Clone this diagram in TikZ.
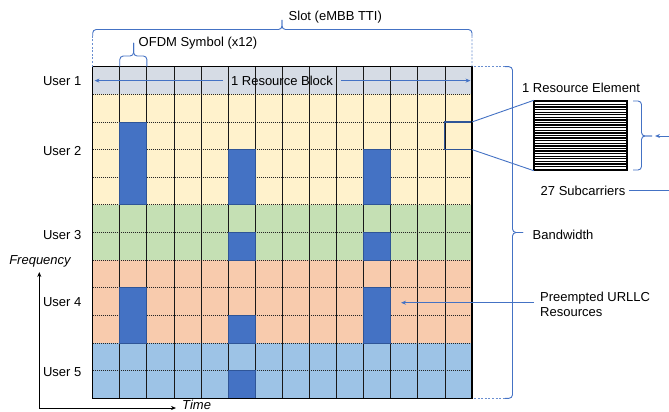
\documentclass[tikz,border=0pt]{standalone}
\usepackage{fontspec}
\setmainfont{Liberation Sans}
\usetikzlibrary{arrows.meta}
\definecolor{uone}{HTML}{D6DCE5}
\definecolor{utwo}{HTML}{FFF2CC}
\definecolor{uthree}{HTML}{C5E0B4}
\definecolor{ufour}{HTML}{F8CBAD}
\definecolor{ufive}{HTML}{9DC3E6}
\definecolor{urblue}{HTML}{4472C4}
\definecolor{urdark}{HTML}{2F5597}
\definecolor{annblue}{HTML}{4472C4}
\tikzset{
  ann/.style={draw=annblue, line width=0.9pt},
  anndot/.style={draw=annblue!80, line width=0.9pt, dash pattern=on 2pt off 1.6pt},
  annbrace/.style={draw=annblue, line width=0.9pt, rounded corners=3.5pt},
  tipstyle/.style={-{Stealth[length=5pt,width=4pt]}},
  dotline/.style={draw=black!85, line width=0.8pt, dash pattern=on 1pt off 1pt},
  vline/.style={draw=black!90, line width=0.8pt},
  urllc/.style={fill=urblue, draw=urdark, line width=0.8pt},
  hl/.style={draw=urdark, line width=1.1pt},
  lbl/.style={inner sep=0pt},
  axis/.style={draw=black, line width=0.7pt}
}
\begin{document}
\begin{tikzpicture}[x=1pt,y=-1pt, font=\fontsize{13}{15.3}\selectfont]
\useasboundingbox (0,0) rectangle (669,412);

% ---------- grid ----------
\begin{scope}[shift={(92.7pt,-66.7pt)}, x=27.093pt, y=-27.633pt]
  \fill[uone]   (0,0)  rectangle (14,1);
  \fill[utwo]   (0,1)  rectangle (14,5);
  \fill[uthree] (0,5)  rectangle (14,7);
  \fill[ufour]  (0,7)  rectangle (14,10);
  \fill[ufive]  (0,10) rectangle (14,12);
  \foreach \r in {1,...,11} \draw[dotline] (0,\r) -- (14,\r);
  \foreach \c in {1,...,13} \draw[vline] (\c,0) -- (\c,12);
  \foreach \c/\a/\b in {1/2/5, 5/3/5, 10/3/5, 5/6/7, 10/6/7, 1/8/10, 10/8/10, 5/9/10, 5/11/12}
    \draw[urllc] (\c,\a) rectangle (\c+1,\b);
  \draw[hl] (13,2) rectangle (14,3);
  \draw[line width=1.5pt] (0,0) rectangle (14,12);
  \coordinate (gNW) at (0,0);
  \coordinate (gNE) at (14,0);
  \coordinate (gSE) at (14,12);
  \coordinate (gSW) at (0,12);
  \coordinate (reA) at (14,2);
  \coordinate (reB) at (14,3);
  \coordinate (ofL) at (1,0);
  \coordinate (ofR) at (2,0);
\end{scope}

% ---------- user labels ----------
\node[lbl, anchor=east] (u1) at (81.5,80.7)  {User 1};
\node[lbl, anchor=east] (u2) at (81.5,150.7) {User 2};
\node[lbl, anchor=east] (u3) at (81.5,235.5) {User 3};
\node[lbl, anchor=east] (u4) at (81.5,302.3) {User 4};
\node[lbl, anchor=east] (u5) at (81.5,372.5) {User 5};

% ---------- resource block arrow ----------
\node[inner ysep=0pt, inner xsep=8pt] (rb) at (282,80.6) {1 Resource Block};
\coordinate (rbL) at (94.5,80.6);
\coordinate (rbR) at (470.5,80.6);
\draw[ann, tipstyle] (rb.west) -- (rbL);
\draw[ann, tipstyle] (rb.east) -- (rbR);

% ---------- slot brace ----------
\coordinate (slL) at (92.7,36);
\coordinate (slR) at (472,36);
\coordinate (slTip) at (282,20);
\draw[anndot] (gNW) -- (slL);
\draw[anndot] (gNE) -- (slR);
\draw[annbrace] (slL) |- (282,29.5) -- (slTip);
\draw[annbrace] (slR) |- (282,29.5) -- (slTip);
\node[lbl, anchor=west] (slot) at (288.5,17) {Slot (eMBB TTI)};

% ---------- OFDM brace ----------
\coordinate (ofTip) at (133.6,43);
\draw[annbrace] (ofL) |- (133.6,56) -- (ofTip);
\draw[annbrace] (ofR) |- (133.6,56) -- (ofTip);
\node[lbl, anchor=west] (ofdm) at (138.5,43) {OFDM Symbol (x12)};

% ---------- bandwidth brace ----------
\coordinate (bwT) at (505,66.7);
\coordinate (bwB) at (505,398.3);
\coordinate (bwTip) at (523,232.5);
\draw[anndot] (474,66.7) -- (bwT);
\draw[anndot] (474,398.3) -- (bwB);
\draw[annbrace] (bwT) -| (512.5,232.5) -- (bwTip);
\draw[annbrace] (bwB) -| (512.5,232.5) -- (bwTip);
\node[lbl, anchor=west] (bw) at (532.5,235) {Bandwidth};

% ---------- resource element ----------
\node[lbl, draw=none, minimum width=93pt, minimum height=70pt] (re) at (580.5,135.5) {};
\fill[white] (re.north west) rectangle (re.south east);
\foreach \i in {0,...,26}
  \draw[black, line width=1.3pt] (534,{100.5+(\i+0.5)*70/27}) -- (627,{100.5+(\i+0.5)*70/27});
\draw[black, line width=1.5pt] (re.north west) rectangle (re.south east);
\node[lbl] (relbl) at (581,88.3) {1 Resource Element};
\draw[ann] (reA) -- (re.north west);
\draw[ann] (reB) -- (re.south west);

% RE brace
\coordinate (rbT) at (633,101);
\coordinate (rbB) at (633,170);
\coordinate (rbTip) at (652,136);
\draw[annbrace] (rbT) -| (641.5,136) -- (rbTip);
\draw[annbrace] (rbB) -| (641.5,136) -- (rbTip);
\coordinate (scIn) at (669,136);
\coordinate (scHead) at (655,136);
\draw[ann, tipstyle] (scIn) -- (scHead);

\node[lbl] (sub) at (583,190.5) {27 Subcarriers};
\coordinate (subR) at (669,190.5);
\draw[ann] ([xshift=4pt]sub.east) -- (subR);

% ---------- preempted ----------
\node[lbl, anchor=west, align=left] (pre) at (540,304.3) {Preempted URLLC\\Resources};
\coordinate (preT) at (401,302.7);
\draw[ann, tipstyle] (534,302.7) -- (preT);

% ---------- axes ----------
\coordinate (orig) at (39.3,408);
\coordinate (fTop) at (39.3,272);
\coordinate (tEnd) at (176,408);
\draw[axis, tipstyle] (orig) -- (fTop);
\draw[axis, tipstyle] (orig) -- (tEnd);
\node[lbl] (freq) at (40,261) {\itshape Frequency};
\node[lbl, anchor=west] (time) at (182,405) {\itshape Time};
\end{tikzpicture}
\end{document}
